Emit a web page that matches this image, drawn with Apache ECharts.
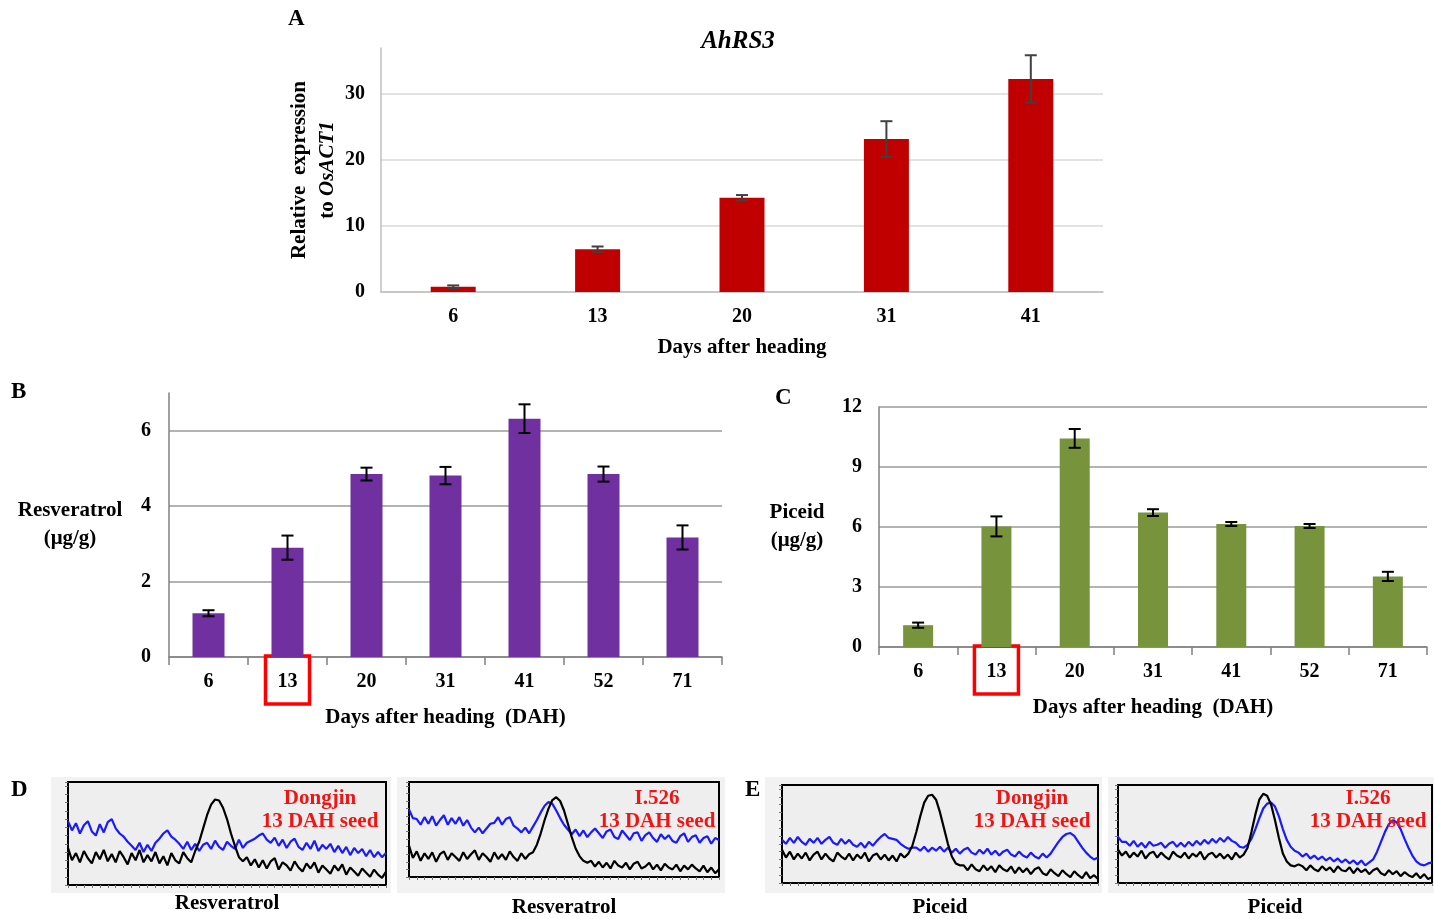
<!DOCTYPE html>
<html>
<head>
<meta charset="utf-8">
<script src="https://cdn.jsdelivr.net/npm/echarts@6/dist/echarts.min.js"></script>
<style>html,body{margin:0;padding:0;background:#fff;}#c{width:1434px;height:919px;}</style>
</head>
<body>
<div id="c"></div>
<script>
// ---------- Data ----------
const daysA = ['6', '13', '20', '31', '41'];
const exprA = [0.8, 6.5, 14.3, 23.2, 32.3];
const errA = [0.2, 0.4, 0.4, 2.7, 3.6];

const daysBC = ['6', '13', '20', '31', '41', '52', '71'];
const resveratrol = [1.16, 2.90, 4.85, 4.81, 6.32, 4.85, 3.17];
const resveratrolErr = [0.08, 0.32, 0.17, 0.23, 0.38, 0.20, 0.32];
const piceid = [1.09, 6.03, 10.43, 6.72, 6.15, 6.05, 3.53];
const piceidErr = [0.13, 0.50, 0.47, 0.17, 0.10, 0.10, 0.23];

// chromatogram traces (relative signal, 0-100), 81 samples each
const d1Black = [36,24,31,22,33,26,21,32,25,34,23,30,22,33,27,20,31,24,34,22,29,23,32,21,28,19,31,24,21,32,26,22,
  33,42,55,68,78,83,82,75,64,50,38,27,23,
  27,19,25,17,24,16,23,26,15,22,19,14,23,17,13,21,16,22,12,19,15,11,19,14,20,10,17,13,9,16,12,8,15,10,7,13];
const d1Blue = [62,53,60,50,58,62,52,48,59,51,61,64, 55,50,47,42,38, 34,41,32,39,33,41, 45,50,53,47,44,
  40,35,42,34,40,33,39, 41,35,43,37,34,42,38,35,44,36,41,43,45, 48,50,44,
  41,46,38,44,36,42,45,37,34,41,35,43,33,39,35,40,32,38,31,37,29,36,31,35,28,34,27,32,27,31];
const d2Black = [33,20,27,17,25,19,26,16,24,27,18,25,21,17,26,19,24,28,18,25,21,16,26,19,24,18,27,21,17,25,19,24,
  26,34,46,60,72,81,84,80,70,56,42,30,22,17,15,
  17,11,16,10,15,9,17,12,10,15,8,14,16,9,11,15,8,13,7,14,10,8,13,6,12,8,13,9,6,12,5,10,4,8];
const d2Blue = [71,62,61,55,63,56,64,54,60,65,55,62,56,63,54,60, 52,47,52,46, 51,56,57,63,55,61,63,54, 51,47,52,46,
  53,60,68,75,79,77,70,62,55, 50,45,50,43,49,42,47,51,
  46,41,48,50,42,40,49,44,39,46,47,38,44,47,41,37,45,40,44,38,36,43,46,37,42,44,36,41,43,35,41,39];
const e1Black = [34,26,32,24,30,25,31,23,29,32,24,30,25,22,31,27,24,30,23,29,25,31,22,28,30,24,29,23,28,22,30,26,
  30,38,52,68,82,89,90,85,72,56,40,27,20,18,
  18,13,19,14,12,18,13,17,11,18,14,12,17,10,16,11,15,9,14,16,10,8,14,10,7,13,9,6,12,8,5,11,5,8,4];
const e1Blue = [44,40,46,41,47,42,39,45,41,46,40,44,47,41,39,45,40,44,39, 37,41,36,42,38, 43,47,50,46,45,44,40,
  37,35,36,36,33,37,32,36,33,37,
  32,36,31,35,30,34,36,31,29,34,30,35,29,33,28,32,34,29,27,32,28,26,31,27,25,30,26,
  30,36,42,47,50,51,48,42,36,31,27,24,26];
const e2Black = [34,28,32,26,31,27,33,25,30,32,26,31,27,24,32,28,26,31,25,30,27,32,24,29,31,26,30,25,29,24,31,26,29,
  36,52,70,85,91,89,80,64,46,30,22,18,17,19,
  17,13,18,14,12,17,13,16,11,17,13,12,16,10,15,11,14,9,13,15,10,8,13,9,12,7,11,8,6,10,5,9,4,6];
const e2Blue = [47,42,42,38,43,37,41,36,42,38,39,41,36,40,42,37,41, 37,42,38,43,39,44,40,45,41,46,42,47,43,41,
  37,36,39, 45,55,66,76,81,82,78,68,55,44,37,33,
  31,27,30,25,28,24,27,23,26,22,25,21,24,20,23,19,23,18,21,
  24,32,42,52,60,64,62,55,45,36,28,22,19,18,20,21];

// ---------- Styling helpers ----------
const SERIF = '"Liberation Serif", "Times New Roman", serif';
const txt = (size, extra) => Object.assign({fontFamily: SERIF, fontWeight: 'bold', fontSize: size, color: '#000'}, extra || {});

function errorSeries(xi, yi, vals, errs, color, capHalf) {
  return {
    type: 'custom', xAxisIndex: xi, yAxisIndex: yi, z: 5, silent: true,
    data: vals.map((v, i) => [i, v, errs[i]]),
    renderItem: (params, api) => {
      const i = api.value(0), v = api.value(1), e = api.value(2);
      const top = api.coord([i, v + e]);
      const bot = api.coord([i, v - e]);
      const st = {stroke: color, lineWidth: 2};
      return {type: 'group', children: [
        {type: 'line', shape: {x1: top[0], y1: top[1], x2: bot[0], y2: bot[1]}, style: st},
        {type: 'line', shape: {x1: top[0] - capHalf, y1: top[1], x2: top[0] + capHalf, y2: top[1]}, style: st},
        {type: 'line', shape: {x1: bot[0] - capHalf, y1: bot[1], x2: bot[0] + capHalf, y2: bot[1]}, style: st}
      ]};
    }
  };
}

const boxRich = {
  n: txt(20, {padding: [16, 12, 12, 12], lineHeight: 22}),
  hl: txt(20, {padding: [16, 12, 12, 12], lineHeight: 22, borderColor: '#ff0000', borderWidth: 3.5})
};
const boxFormatter = v => v === '13' ? '{hl|' + v + '}' : '{n|' + v + '}';

const chromGrids = [
  {left: 68, top: 782, width: 318, height: 103},
  {left: 409, top: 782, width: 310, height: 98},
  {left: 782, top: 785, width: 316, height: 98},
  {left: 1118, top: 785, width: 314, height: 98}
];
const chromNames = ['Resveratrol', 'Resveratrol', 'Piceid', 'Piceid'];
const chromGaps = [8, 20, 14, 14];
const chromTraces = [[d1Blue, d1Black], [d2Blue, d2Black], [e1Blue, e1Black], [e2Blue, e2Black]];

const grids = [
  {left: 381, top: 48, width: 722, height: 244},
  {left: 169, top: 393, width: 553, height: 264},
  {left: 879, top: 407, width: 548, height: 240}
].concat(chromGrids.map(g => Object.assign({show: true, backgroundColor: '#eeeeee', borderColor: '#000', borderWidth: 2}, g)));

const xAxes = [
  {gridIndex: 0, type: 'category', data: daysA,
    axisLine: {lineStyle: {color: '#bfbfbf', width: 1.5}}, axisTick: {show: false},
    axisLabel: txt(20, {margin: 15}),
    name: 'Days after heading', nameLocation: 'middle', nameGap: 45, nameTextStyle: txt(21)},
  {gridIndex: 1, type: 'category', data: daysBC,
    axisLine: {lineStyle: {color: '#808080', width: 1.5}},
    axisTick: {show: true, length: 8, lineStyle: {color: '#808080', width: 1.5}},
    axisLabel: {margin: 12, formatter: boxFormatter, rich: boxRich},
    name: 'Days after heading  (DAH)', nameLocation: 'middle', nameGap: 46, nameTextStyle: txt(21)},
  {gridIndex: 2, type: 'category', data: daysBC,
    axisLine: {lineStyle: {color: '#808080', width: 1.5}},
    axisTick: {show: true, length: 8, lineStyle: {color: '#808080', width: 1.5}},
    axisLabel: {margin: 12, formatter: boxFormatter, rich: boxRich},
    name: 'Days after heading  (DAH)', nameLocation: 'middle', nameGap: 46, nameTextStyle: txt(21)}
].concat(chromGrids.map((g, k) => ({
  gridIndex: 3 + k, type: 'value', min: 0, max: 80, interval: 2,
  axisLine: {show: false}, splitLine: {show: false},
  axisTick: {show: true, length: 3, inside: false, lineStyle: {color: '#777', width: 1}},
  axisLabel: {show: false},
  name: chromNames[k], nameLocation: 'middle', nameGap: chromGaps[k], nameTextStyle: txt(21)
})));

const yAxes = [
  {gridIndex: 0, type: 'value', min: 0, max: 37, interval: 10,
    axisLine: {show: true, lineStyle: {color: '#bfbfbf', width: 1.5}}, axisTick: {show: false},
    axisLabel: txt(20, {margin: 16, showMaxLabel: false}),
    splitLine: {show: true, showMaxLine: false, lineStyle: {color: '#d9d9d9', width: 1.5}},
    name: 'Relative  expression\n{a|to }{i|OsACT1}', nameLocation: 'middle', nameRotate: 90, nameGap: 39,
    nameMoveOverlap: false,
    nameTextStyle: txt(21, {lineHeight: 28, rich: {a: txt(21), i: txt(21, {fontStyle: 'italic'})}})},
  {gridIndex: 1, type: 'value', min: 0, max: 7, interval: 2,
    axisLine: {show: true, lineStyle: {color: '#808080', width: 1.5}}, axisTick: {show: false},
    axisLabel: txt(20, {margin: 18, showMaxLabel: false}),
    splitLine: {show: true, showMaxLine: false, lineStyle: {color: '#9a9a9a', width: 1.5}},
    name: 'Resveratrol\n(μg/g)', nameLocation: 'middle', nameRotate: 0, nameGap: 99,
    nameTextStyle: txt(21, {align: 'center', lineHeight: 28})},
  {gridIndex: 2, type: 'value', min: 0, max: 12, interval: 3,
    axisLine: {show: true, lineStyle: {color: '#808080', width: 1.5}}, axisTick: {show: false},
    axisLabel: txt(20, {margin: 17}),
    splitLine: {show: true, lineStyle: {color: '#9a9a9a', width: 1.5}},
    name: 'Piceid\n(μg/g)', nameLocation: 'middle', nameRotate: 0, nameGap: 82,
    nameTextStyle: txt(21, {align: 'center', lineHeight: 28})}
].concat(chromGrids.map((g, k) => ({
  gridIndex: 3 + k, type: 'value', min: 0, max: 100, interval: 8,
  axisLine: {show: false}, splitLine: {show: false},
  axisTick: {show: true, length: 3, lineStyle: {color: '#777', width: 1}},
  axisLabel: {show: false}
})));

const series = [
  {type: 'bar', xAxisIndex: 0, yAxisIndex: 0, data: exprA, barWidth: 45, itemStyle: {color: '#c00000'}, silent: true},
  errorSeries(0, 0, exprA, errA, '#404040', 6),
  {type: 'bar', xAxisIndex: 1, yAxisIndex: 1, data: resveratrol, barWidth: 32, itemStyle: {color: '#7030a0'}, silent: true},
  errorSeries(1, 1, resveratrol, resveratrolErr, '#000', 6),
  {type: 'bar', xAxisIndex: 2, yAxisIndex: 2, data: piceid, barWidth: 30, itemStyle: {color: '#77933c'}, silent: true},
  errorSeries(2, 2, piceid, piceidErr, '#000', 6)
];
chromTraces.forEach((pair, k) => {
  const colors = ['#1a1aff', '#000000'];
  pair.forEach((trace, j) => {
    series.push({
      type: 'line', xAxisIndex: 3 + k, yAxisIndex: 3 + k, showSymbol: false, silent: true,
      data: trace.map((v, i) => [i, v]), z: 3 + j,
      lineStyle: {color: colors[j], width: 2.2}
    });
  });
});

const red = txt(21, {color: '#f01515', lineHeight: 23});
const titles = [
  {text: 'A', left: 288, top: 8, textStyle: txt(23)},
  {text: 'AhRS3', left: 738, top: 29, textAlign: 'center', textStyle: txt(25, {fontStyle: 'italic'})},
  {text: 'B', left: 11, top: 381, textStyle: txt(23)},
  {text: 'C', left: 775, top: 387, textStyle: txt(23)},
  {text: 'D', left: 11, top: 779, textStyle: txt(23)},
  {text: 'E', left: 745, top: 779, textStyle: txt(23)},
  {text: 'Dongjin\n13 DAH seed', left: 320, top: 787, textAlign: 'center', textStyle: red},
  {text: 'I.526\n13 DAH seed', left: 657, top: 787, textAlign: 'center', textStyle: red},
  {text: 'Dongjin\n13 DAH seed', left: 1032, top: 787, textAlign: 'center', textStyle: red},
  {text: 'I.526\n13 DAH seed', left: 1368, top: 787, textAlign: 'center', textStyle: red}
].map(t => Object.assign({padding: 0, z: 10}, t));

const chart = echarts.init(document.getElementById('c'), null, {renderer: 'canvas'});
chart.setOption({
  animation: false,
  backgroundColor: '#ffffff',
  title: titles,
  graphic: [
    {type: 'rect', silent: true, z: -10, shape: {x: 51, y: 777, width: 340, height: 116}, style: {fill: '#f2f2f2'}},
    {type: 'rect', silent: true, z: -10, shape: {x: 397, y: 777, width: 328, height: 116}, style: {fill: '#f2f2f2'}},
    {type: 'rect', silent: true, z: -10, shape: {x: 765, y: 777, width: 337, height: 116}, style: {fill: '#f2f2f2'}},
    {type: 'rect', silent: true, z: -10, shape: {x: 1108, y: 777, width: 326, height: 116}, style: {fill: '#f2f2f2'}}
  ],
  grid: grids,
  xAxis: xAxes,
  yAxis: yAxes,
  series: series
});
</script>
</body>
</html>
